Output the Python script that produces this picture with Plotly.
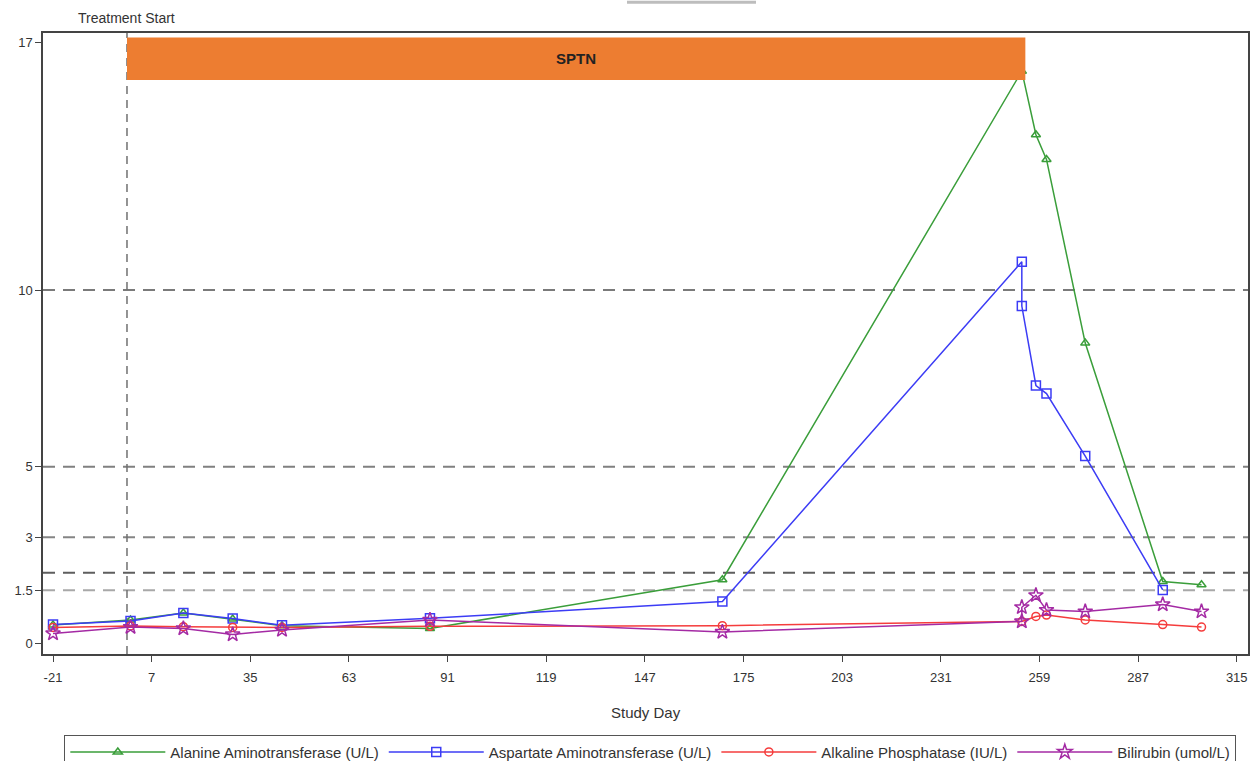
import plotly.graph_objects as go

# ---- data ----
alt_days = [-21, 1, 16, 30, 44, 86, 169, 254, 258, 261, 272, 294, 305]
alt_vals = [0.52, 0.66, 0.86, 0.69, 0.50, 0.42, 1.80, 16.2, 14.4, 13.7, 8.5, 1.75, 1.66]

ast_days = [-21, 1, 16, 30, 44, 86, 169, 254, 254, 258, 261, 272, 294]
ast_vals = [0.53, 0.63, 0.86, 0.70, 0.51, 0.71, 1.18, 10.8, 9.55, 7.3, 7.07, 5.3, 1.51]

alp_days = [-21, 1, 16, 30, 44, 86, 169, 254, 258, 261, 272, 294, 305]
alp_vals = [0.45, 0.49, 0.47, 0.45, 0.45, 0.48, 0.50, 0.62, 0.76, 0.80, 0.66, 0.53, 0.46]

bili_days = [-21, 1, 16, 30, 44, 86, 169, 254, 254, 258, 261, 272, 294, 305]
bili_vals = [0.28, 0.46, 0.42, 0.25, 0.38, 0.66, 0.32, 0.62, 1.02, 1.36, 0.94, 0.90, 1.10, 0.90]

series_names = ["Alanine Aminotransferase (U/L)", "Aspartate Aminotransferase (U/L)",
                "Alkaline Phosphatase (IU/L)", "Bilirubin (umol/L)"]

x_ticks = [-21, 7, 35, 63, 91, 119, 147, 175, 203, 231, 259, 287, 315]
y_ticks = [0, 1.5, 3, 5, 10, 17]
ref_levels = [10, 5, 3, 2, 1.5]
treatment_start_day = 0
sptn_start, sptn_end = 0, 255
sptn_low, sptn_high = 15.95, 17.15

# ---- styles ----
colors = ["#3a9e3a", "#3c3cf5", "#f53c3c", "#a42aa4"]
symbols = ["triangle-up-open", "square-open", "circle-open", "star-open"]
sizes = [8, 9, 8, 11]
ref_colors = {10: "#7a7a7a", 5: "#808080", 3: "#858585", 2: "#5e5e5e", 1.5: "#a8a8a8"}
FONT = "Liberation Sans, Arial, sans-serif"

fig = go.Figure()
for xs, ys, name, c, s, sz in zip(
        [alt_days, ast_days, alp_days, bili_days],
        [alt_vals, ast_vals, alp_vals, bili_vals],
        series_names, colors, symbols, sizes):
    fig.add_trace(go.Scatter(
        x=xs, y=ys, name=name, mode="lines+markers",
        line=dict(color=c, width=1.5),
        marker=dict(symbol=s, size=sz, color=c, line=dict(color=c, width=1.5)),
    ))

shapes = []
for lv in ref_levels:
    shapes.append(dict(type="line", xref="paper", yref="y", x0=0, x1=1, y0=lv, y1=lv,
                       line=dict(color=ref_colors[lv], width=2, dash="12px,8px"), layer="below"))
shapes.append(dict(type="line", xref="x", yref="paper", x0=treatment_start_day, x1=treatment_start_day,
                   y0=0, y1=1, line=dict(color="#707070", width=1.5, dash="8px,6px"), layer="below"))
shapes.append(dict(type="rect", xref="x", yref="y", x0=sptn_start, x1=sptn_end,
                   y0=sptn_low, y1=sptn_high, fillcolor="#ed7d31", line=dict(width=0), layer="above"))
# small grey box edge at the top
shapes.append(dict(type="line", xref="paper", yref="paper", x0=(627 - 43) / 1205, x1=(756 - 43) / 1205,
                   y0=1.0495, y1=1.0495, line=dict(color="#bdbdbd", width=3)))

annotations = [
    dict(x=(sptn_start + sptn_end) / 2, y=(sptn_low + sptn_high) / 2, xref="x", yref="y",
         text="<b>SPTN</b>", showarrow=False, font=dict(family=FONT, size=15, color="#222222")),
    dict(x=treatment_start_day, y=1.024, xref="x", yref="paper", yanchor="middle",
         text="Treatment Start", showarrow=False, font=dict(family=FONT, size=14, color="#333333")),
    dict(x=0.5, y=-0.0934, xref="paper", yref="paper", yanchor="middle", xanchor="center",
         text="Study Day", showarrow=False, font=dict(family=FONT, size=15, color="#333333")),
]

fig.update_layout(
    width=1258, height=761,
    margin=dict(l=43, r=10, t=33, b=107, autoexpand=False),
    paper_bgcolor="white", plot_bgcolor="white",
    font=dict(family=FONT, size=13, color="#333333"),
    shapes=shapes, annotations=annotations,
    showlegend=True,
    legend=dict(orientation="h", x=0.504, xanchor="center", y=-0.13, yanchor="top",
                bordercolor="#555555", borderwidth=1, font=dict(family=FONT, size=15, color="#333333"),
                itemwidth=95, traceorder="normal"),
)
fig.update_xaxes(
    range=[-23.84, 318.2], tickvals=x_ticks, ticktext=[str(v) for v in x_ticks],
    showgrid=False, zeroline=False, showline=True, linecolor="#444444", linewidth=1.5,
    mirror=True, ticks="outside", ticklen=6, tickcolor="#444444", ticklabelstandoff=5,
    tickfont=dict(family=FONT, size=13, color="#333333"),
)
fig.update_yaxes(
    range=[-0.303, 17.28], tickvals=y_ticks, ticktext=["0", "1.5", "3", "5", "10", "17"],
    showgrid=False, zeroline=False, showline=True, linecolor="#444444", linewidth=1.5,
    mirror=True, ticks="outside", ticklen=6, tickcolor="#444444",
    tickfont=dict(family=FONT, size=13, color="#333333"),
)

fig.write_html("out.html", config={"displayModeBar": False},
               post_script="document.body.style.margin='0px';")
